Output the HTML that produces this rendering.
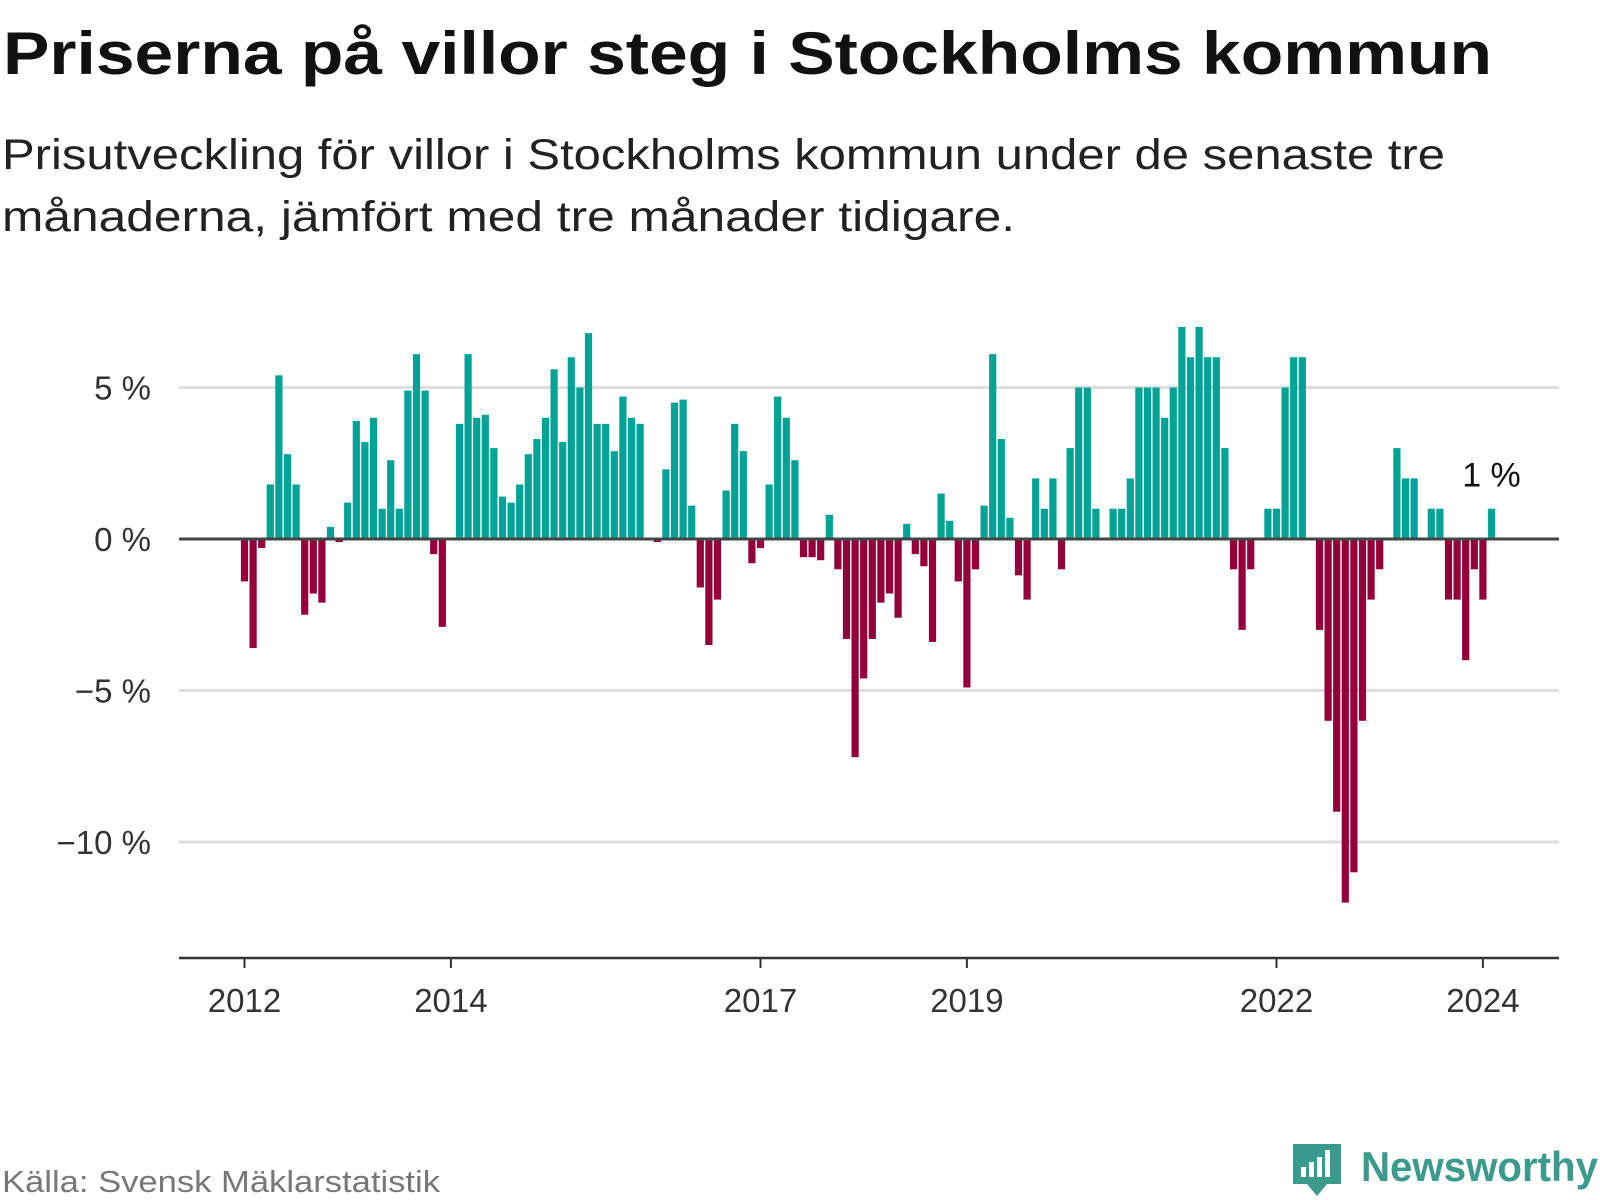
<!DOCTYPE html>
<html><head><meta charset="utf-8"><style>
html,body{margin:0;padding:0;background:#fff;}
svg{display:block;font-family:"Liberation Sans",sans-serif;}
</style></head><body>
<svg id="chart" width="1600" height="1200" viewBox="0 0 1600 1200">
<text x="3" y="74" font-size="60" font-weight="bold" fill="#111" textLength="1489" lengthAdjust="spacingAndGlyphs">Priserna på villor steg i Stockholms kommun</text>
<text x="2" y="169" font-size="43" fill="#222" textLength="1443" lengthAdjust="spacingAndGlyphs">Prisutveckling för villor i Stockholms kommun under de senaste tre</text>
<text x="2" y="231" font-size="43" fill="#222" textLength="1013" lengthAdjust="spacingAndGlyphs">månaderna, jämfört med tre månader tidigare.</text>
<g id="grid"></g>
<g id="bars"></g>
<g id="axes"></g>
<text x="2" y="1192" font-size="31" fill="#777" textLength="438" lengthAdjust="spacingAndGlyphs">Källa: Svensk Mäklarstatistik</text>
<g>
<path d="M1293 1144 h48 v40 h-14 l-10 12 l-10 -12 h-14 z" fill="#3a9a8c"/>
<rect x="1301" y="1167" width="5" height="10" fill="#fff"/>
<rect x="1309" y="1162" width="5" height="15" fill="#fff"/>
<rect x="1317" y="1157" width="5" height="20" fill="#fff"/>
<rect x="1325" y="1150" width="5" height="27" fill="#fff"/>
<text x="1361" y="1181" font-size="42" font-weight="bold" fill="#3a9a8c" textLength="237" lengthAdjust="spacingAndGlyphs">Newsworthy</text>
</g>
</svg>
<script>
const values = [-1.4,-3.6,-0.3,1.8,5.4,2.8,1.8,-2.5,-1.8,-2.1,0.4,-0.1,
1.2,3.9,3.2,4.0,1.0,2.6,1.0,4.9,6.1,4.9,-0.5,-2.9,
0,3.8,6.1,4.0,4.1,3.0,1.4,1.2,1.8,2.8,3.3,4.0,
5.6,3.2,6.0,5.0,6.8,3.8,3.8,2.9,4.7,4.0,3.8,0,
-0.1,2.3,4.5,4.6,1.1,-1.6,-3.5,-2.0,1.6,3.8,2.9,-0.8,
-0.3,1.8,4.7,4.0,2.6,-0.6,-0.6,-0.7,0.8,-1.0,-3.3,-7.2,
-4.6,-3.3,-2.1,-1.8,-2.6,0.5,-0.5,-0.9,-3.4,1.5,0.6,-1.4,
-4.9,-1.0,1.1,6.1,3.3,0.7,-1.2,-2.0,2.0,1.0,2.0,-1.0,
3.0,5.0,5.0,1.0,0,1.0,1.0,2.0,5.0,5.0,5.0,4.0,
5.0,7.0,6.0,7.0,6.0,6.0,3.0,-1.0,-3.0,-1.0,0,1.0,
1.0,5.0,6.0,6.0,0,-3.0,-6.0,-9.0,-12.0,-11.0,-6.0,-2.0,
-1.0,0,3.0,2.0,2.0,0,1.0,1.0,-2.0,-2.0,-4.0,-1.0,
-2.0,1.0];
const startYear = 2012;
const yTicks = [5,0,-5,-10];
const yTickLabels = ["5 %","0 %","\u22125 %","\u221210 %"];
const xTickYears = [2012,2014,2017,2019,2022,2024];
const lastLabel = "1 %";

const NS="http://www.w3.org/2000/svg";
const y0=539, unit=30.3, x0=244.5, pitch=8.6, bw=7.2;
const yScale=v=>y0-v*unit;
const xScale=i=>x0+i*pitch;
const xYear=yr=>x0+(yr-startYear)*12*pitch;
function mk(tag,attrs,parent){const e=document.createElementNS(NS,tag);for(const k in attrs)e.setAttribute(k,attrs[k]);parent.appendChild(e);return e;}
const grid=document.getElementById('grid'),bars=document.getElementById('bars'),axes=document.getElementById('axes');
yTicks.forEach((t,i)=>{
  if(t!==0){const l=mk('line',{x1:179,x2:1559,y1:yScale(t),y2:yScale(t),stroke:'#dedede','stroke-width':3},grid);
  
  }
  const tx=mk('text',{x:151,y:yScale(t)+12,'font-size':33,fill:'#333','text-anchor':'end'},axes);
  tx.textContent=yTickLabels[i];
  
  
});
values.forEach((v,i)=>{
  if(v===0)return;
  const cx=xScale(i);
  const r=mk('rect',{x:cx-bw/2,y:Math.min(yScale(v),y0),width:bw,height:Math.abs(v)*unit,fill:v>0?'#00a396':'#96003a'},bars);
  
  
});
const z=mk('line',{x1:179,x2:1559,y1:y0,y2:y0,stroke:'#444','stroke-width':3},axes);


const ax=mk('line',{x1:179,x2:1559,y1:958,y2:958,stroke:'#333','stroke-width':2.5},axes);


xTickYears.forEach(yr=>{
  const x=xYear(yr);
  const tk=mk('line',{x1:x,x2:x,y1:958,y2:968,stroke:'#333','stroke-width':2},axes);
  
  
  const t=mk('text',{x:x,y:1012,'font-size':33,fill:'#333','text-anchor':'middle'},axes);
  t.textContent=String(yr);
  
  
});
const li=values.length-1;
const lt=mk('text',{x:xScale(li),y:yScale(values[li])-22,'font-size':34,fill:'#111','text-anchor':'middle'},axes);
lt.textContent=lastLabel;


</script>
</body></html>
